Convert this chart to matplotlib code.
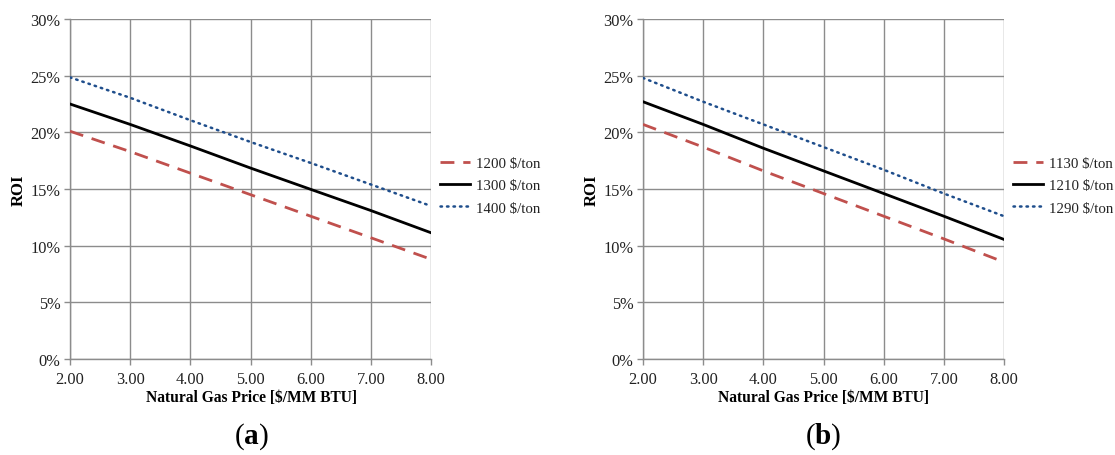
import matplotlib
matplotlib.use("Agg")
import matplotlib.pyplot as plt
from matplotlib.ticker import FuncFormatter

plt.rcParams['font.family'] = ['Liberation Serif', 'DejaVu Serif']
plt.rcParams['mathtext.fontset'] = 'custom'
plt.rcParams['mathtext.rm'] = 'Liberation Serif'
plt.rcParams['mathtext.bf'] = 'Liberation Serif:bold'

gas_price = [2, 3, 4, 5, 6, 7, 8]

labels_a = ["1200 $/ton", "1300 $/ton", "1400 $/ton"]
roi_a_1200 = [20.1, 18.3, 16.4, 14.5, 12.6, 10.7, 8.8]
roi_a_1300 = [22.5, 20.7, 18.8, 16.85, 14.97, 13.1, 11.14]
roi_a_1400 = [24.85, 23.05, 21.07, 19.15, 17.3, 15.4, 13.5]

labels_b = ["1130 $/ton", "1210 $/ton", "1290 $/ton"]
roi_b_1130 = [20.7, 18.7, 16.6, 14.6, 12.6, 10.6, 8.55]
roi_b_1210 = [22.7, 20.7, 18.6, 16.6, 14.6, 12.6, 10.55]
roi_b_1290 = [24.8, 22.7, 20.7, 18.7, 16.7, 14.6, 12.6]

x_ticks = [2, 3, 4, 5, 6, 7, 8]
y_ticks = [0, 5, 10, 15, 20, 25, 30]

W, H = 1115, 456
fig = plt.figure(figsize=(W / 100, H / 100), dpi=100)

red = '#C0504D'
blue = '#1F4E8C'
grid_col = '#8C8C8C'


def make_panel(left_px, series, labels, letter, xlabel_center_px, letter_center_px):
    ax = fig.add_axes([left_px / W, 1 - 360 / H, 361 / W, 340 / H])
    styles = [
        dict(color=red, lw=2.0, linestyle=(0, (5, 3.2)), dash_capstyle='butt'),
        dict(color='black', lw=2.0, linestyle='-'),
        dict(color=blue, lw=1.8, linestyle=(0, (0.6, 2.0)), dash_capstyle='round'),
    ]
    for vals, lab, st in zip(series, labels, styles):
        ax.plot(gas_price, vals, label=lab, **st, zorder=3)
    ax.set_xlim(2, 8)
    ax.set_ylim(0, 30)
    ax.set_xticks(x_ticks)
    ax.set_yticks(y_ticks)
    ax.xaxis.set_major_formatter(FuncFormatter(lambda v, p: f"{v:.2f}"))
    ax.yaxis.set_major_formatter(FuncFormatter(lambda v, p: f"{v:.0f}%"))
    ax.grid(True, color=grid_col, lw=1.0, zorder=0)
    for s in ['top', 'right']:
        ax.spines[s].set_visible(False)
    for s in ['left', 'bottom']:
        ax.spines[s].set_color(grid_col)
        ax.spines[s].set_linewidth(1.0)
    ax.tick_params(axis='both', direction='out', length=4, width=1.0,
                   color=grid_col, labelsize=11.8, labelcolor='#222222', pad=3)
    ax.tick_params(axis='x', pad=5)
    ax.set_ylabel("ROI", fontsize=12, fontweight='bold')
    ax.yaxis.set_label_coords(-43 / 361, 0.5)
    fig.text(xlabel_center_px / W, 1 - 398 / H, "Natural Gas Price [$/MM BTU]",
             ha='center', va='center', fontsize=11.2, fontweight='bold')
    fig.text(letter_center_px / W, 1 - 437 / H, r"$(\mathbf{" + letter + r"})$",
             ha='center', va='center', fontsize=21)
    leg = ax.legend(loc='center left', bbox_to_anchor=(1.0 + 9 / 361, 0.51),
                    frameon=False, fontsize=10.7, handlelength=2.05,
                    handletextpad=0.4, labelspacing=0.6, borderpad=0,
                    borderaxespad=0)
    for t in leg.get_texts():
        t.set_color('#222222')
    return ax


make_panel(70, [roi_a_1200, roi_a_1300, roi_a_1400], labels_a, 'a', 251, 251)
make_panel(643, [roi_b_1130, roi_b_1210, roi_b_1290], labels_b, 'b', 823, 823)

fig.savefig("out.png", dpi=100)
